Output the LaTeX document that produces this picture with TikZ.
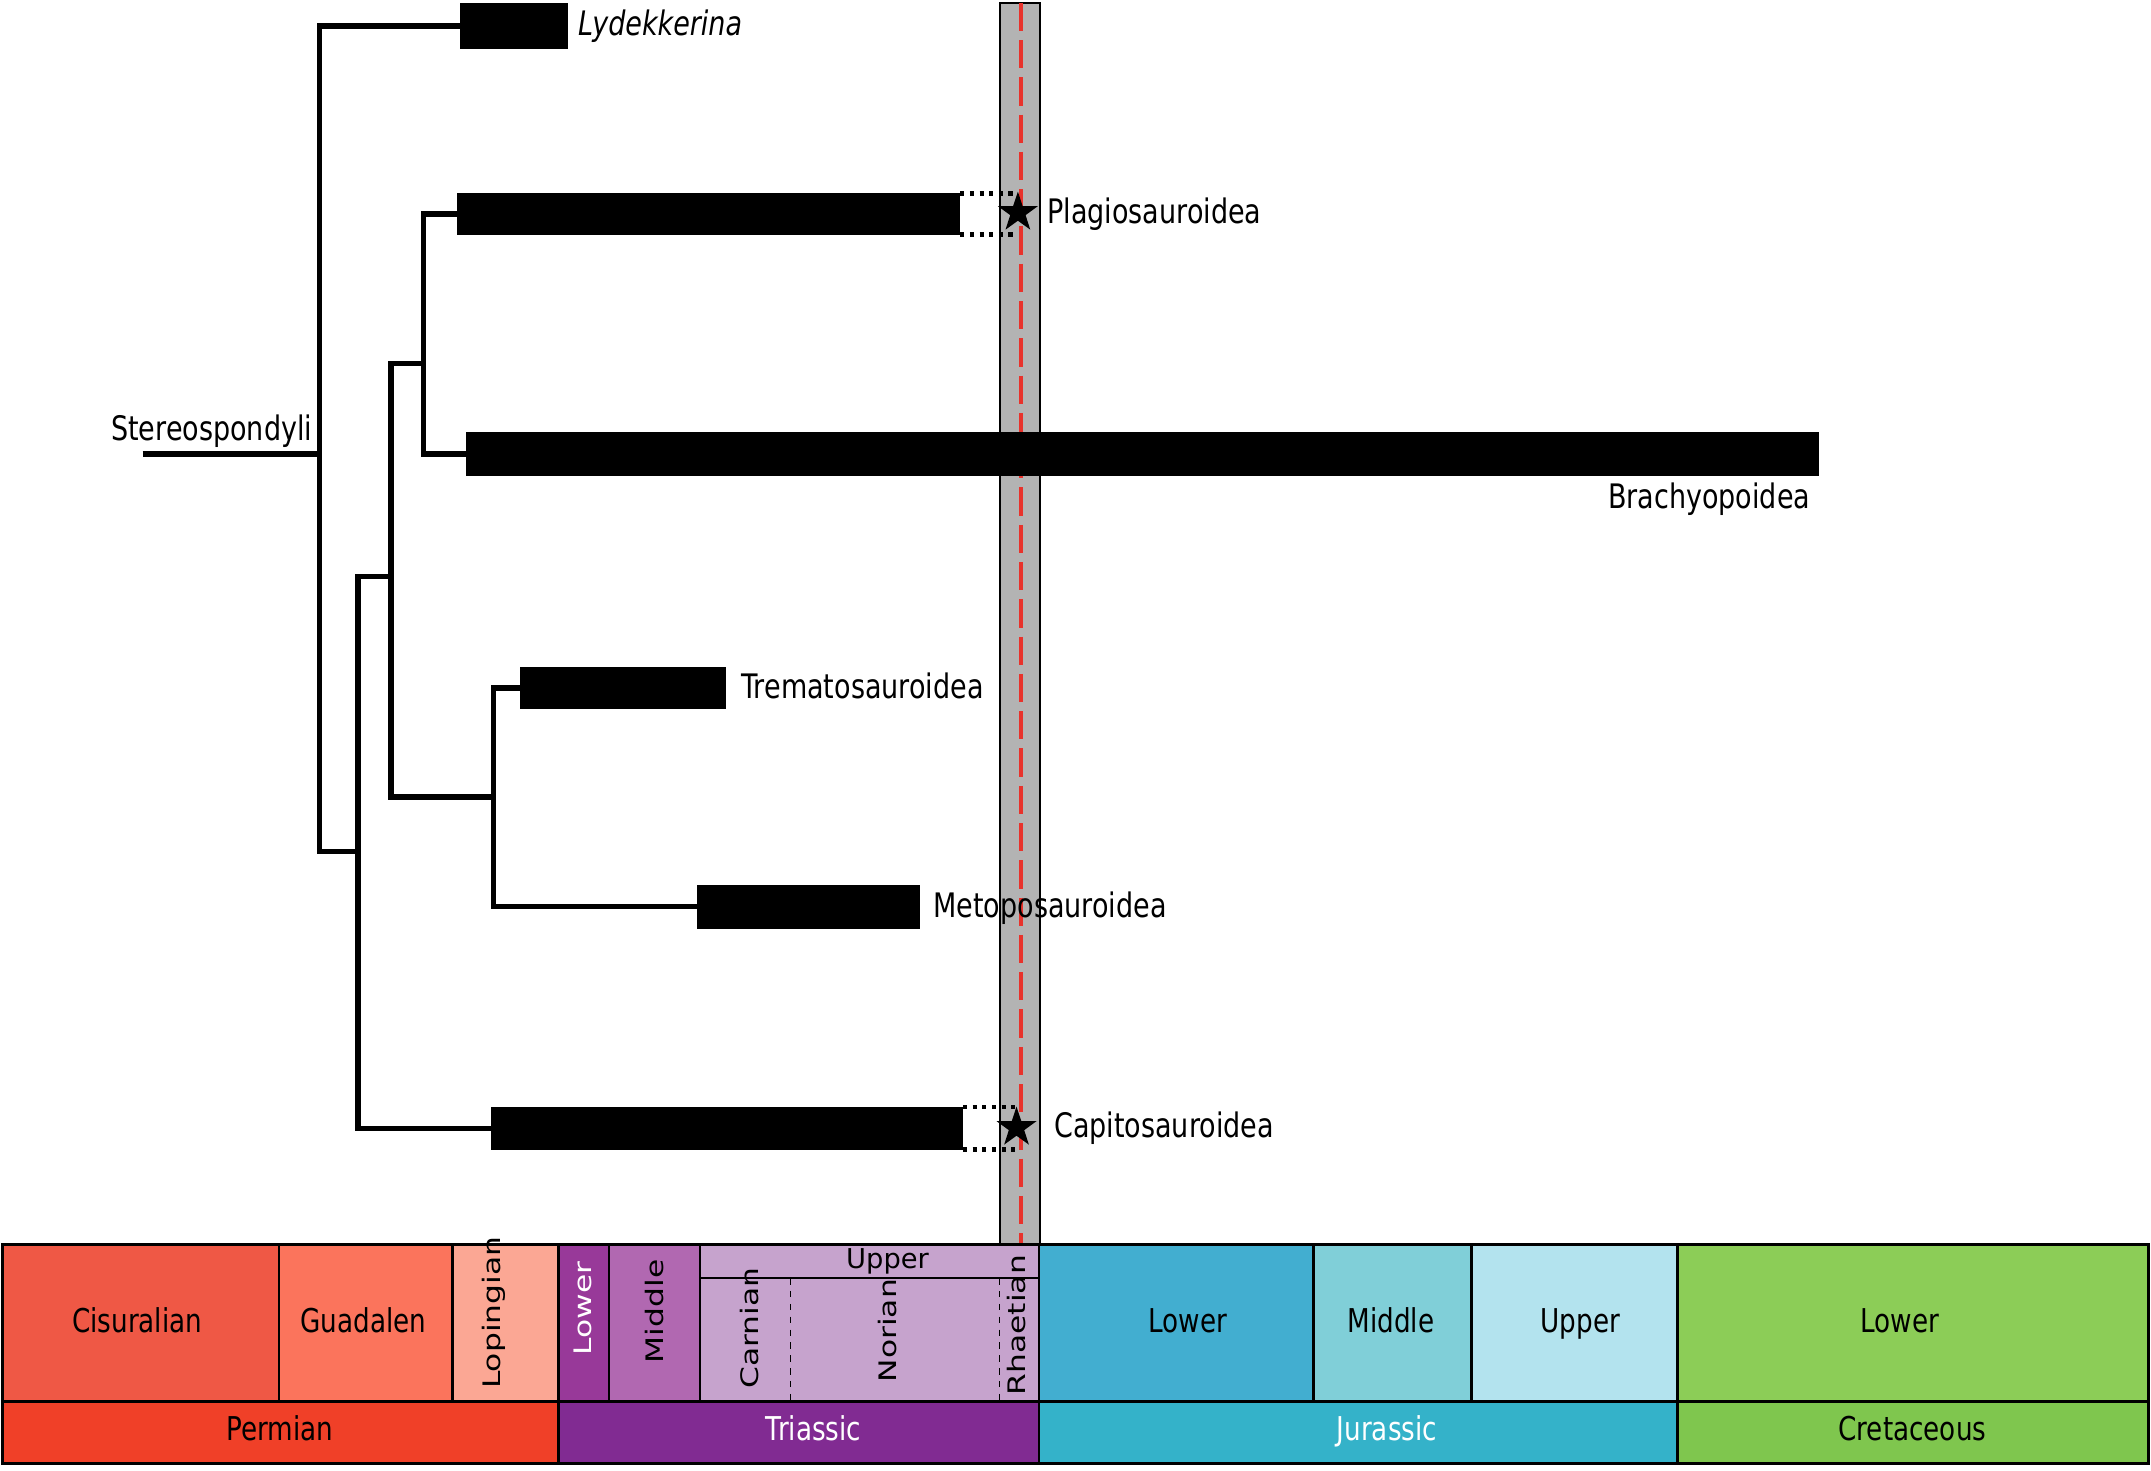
\documentclass[tikz,border=0pt]{standalone}
\usepackage{fontspec}
\setmainfont{DejaVu Sans}[FakeStretch=0.8]
\newfontfamily\stagefont{DejaVu Sans}[FakeStretch=1.3]
\newfontfamily\widefont{DejaVu Sans}
\usepackage{xcolor}
\usepackage{tikz}
\usetikzlibrary{shapes.geometric,fit}

\definecolor{band}{HTML}{B3B3B3}
\definecolor{boundaryred}{HTML}{E8322B}
\definecolor{cisuralian}{HTML}{EF5845}
\definecolor{guadalupian}{HTML}{FB745C}
\definecolor{lopingian}{HTML}{FBA794}
\definecolor{permian}{HTML}{F04028}
\definecolor{lowertri}{HTML}{983999}
\definecolor{middletri}{HTML}{B168B1}
\definecolor{uppertri}{HTML}{C6A3CD}
\definecolor{triassic}{HTML}{812B92}
\definecolor{lowerjur}{HTML}{42AED0}
\definecolor{middlejur}{HTML}{80CFD8}
\definecolor{upperjur}{HTML}{B3E3EE}
\definecolor{jurassic}{HTML}{34B2C9}
\definecolor{lowercret}{HTML}{8CCD57}
\definecolor{cretaceous}{HTML}{7FC64E}

\begin{document}
\begin{tikzpicture}[x=0.015cm, y=-0.015cm,
        branch/.style={line width=1.6pt},
        bar/.style={fill=black, inner sep=0pt, outer sep=0pt},
        gap/.style={line width=1.3pt, dash pattern=on 1.3pt off 1.7pt},
        boundary/.style={boundaryred, line width=1.3pt, dash pattern=on 8.8pt off 2.8pt},
        fossil/.style={star, star points=5, star point ratio=2.6, fill=black, inner sep=0pt, minimum size=0.46cm},
        taxon/.style={anchor=base west, inner sep=0pt, font=\fontsize{10.5}{12}\selectfont},
        cell/.style={draw=black, line width=0.8pt},
        period/.style={anchor=base, inner sep=0pt, font=\fontsize{10.2}{12}\selectfont},
        stage/.style={rotate=90, inner sep=0pt, font=\stagefont\fontsize{7.5}{9}\selectfont}]
    \useasboundingbox (0,0) rectangle (1568,1072);

    % Draw the time slice and the boundary
    \filldraw[fill=band, draw=black, line width=0.6pt] (729,2) rectangle (758,907);
    \draw[boundary] (744,2) coordinate (top) -- (744,907) coordinate (bottom);

    % Draw the ranges
    \node[bar, fit={(335,2) (414,36)}] (lyd) {};
    \node[bar, fit={(333,141) (700,171)}] (plag) {};
    \node[bar, fit={(340,315) (1326,347)}] (brach) {};
    \node[bar, fit={(379,486) (529,517)}] (trem) {};
    \node[bar, fit={(508,645) (671,677)}] (meto) {};
    \node[bar, fit={(358,807) (702,838)}] (capi) {};

    % Draw the tree
    \coordinate (root) at (104,331);
    \coordinate (n1) at (233,331);
    \coordinate (n2) at (261,621);
    \coordinate (n3) at (285,420);
    \coordinate (n4) at (309,265);
    \coordinate (n5) at (360,581);
    \draw[branch] (root) -- (n1);
    \draw[branch] (n1) |- (lyd.west);
    \draw[branch] (n1) |- (n2);
    \draw[branch] (n2) |- (n3);
    \draw[branch] (n2) |- (capi.west);
    \draw[branch] (n3) |- (n4);
    \draw[branch] (n3) |- (n5);
    \draw[branch] (n4) |- (plag.west);
    \draw[branch] (n4) |- (brach.west);
    \draw[branch] (n5) |- (trem.west);
    \draw[branch] (n5) |- (meto.west);

    % Draw the ghost ranges up to the boundary
    \node[fossil] (pstar) at (742,155) {};
    \node[fossil] (cstar) at (741,822) {};
    \draw[gap] (plag.north east) -- (plag.north east -| pstar);
    \draw[gap] (plag.south east) -- (plag.south east -| pstar);
    \draw[gap] (capi.north east) -- (capi.north east -| cstar);
    \draw[gap] (capi.south east) -- (capi.south east -| cstar);

    % Labels
    \node[taxon, anchor=base east] (stereo) at (228,321) {Stereospondyli};
    \node[taxon] (lydname) at (421,26) {\itshape Lydekkerina};
    \node[taxon] (plagname) at (763,163) {Plagiosauroidea};
    \node[taxon, anchor=base east] (brachname) at (1320,371) {Brachyopoidea};
    \node[taxon] (tremname) at (540,509) {Trematosauroidea};
    \node[taxon] (metoname) at (680,669) {Metoposauroidea};
    \node[taxon] (capiname) at (768,829) {Capitosauroidea};

    % Draw the stages
    \foreach \xa/\xb/\xt/\col/\txt [count=\i] in {
        2/203.5/100/cisuralian/Cisuralian,
        203.5/330/265/guadalupian/Guadalen,
        757.5/957.5/866/lowerjur/Lower,
        957.5/1072.5/1014/middlejur/Middle,
        1072.5/1223/1152/upperjur/Upper,
        1223/1566/1385/lowercret/Lower}
    {
        \filldraw[cell, fill=\col] (\xa,907) rectangle (\xb,1021.5);
        \node[period] (stage\i) at (\xt,971) {\txt};
    }
    \foreach \xa/\xb/\xt/\yt/\col/\tcol/\txt [count=\i] in {
        330/407/360/957/lopingian/black/Lopingian,
        407/443.8/425/954/lowertri/white/Lower,
        443.8/510.3/477/956/middletri/black/Middle}
    {
        \filldraw[cell, fill=\col] (\xa,907) rectangle (\xb,1021.5);
        \node[stage, text=\tcol] (rstage\i) at (\xt,\yt) {\txt};
    }

    % Upper Triassic and its ages
    \filldraw[cell, fill=uppertri] (510.3,907) rectangle (757.5,1021.5);
    \draw[cell] (510.3,931.7) -- (757.5,931.7);
    \draw[line width=0.5pt, dash pattern=on 2pt off 2pt] (576.2,931.7) -- (576.2,1021.5);
    \draw[line width=0.5pt, dash pattern=on 2pt off 2pt] (728.6,931.7) -- (728.6,1021.5);
    \node[anchor=base, inner sep=0pt, font=\widefont\fontsize{8.5}{9}\selectfont] (upper) at (647,925) {Upper};
    \node[stage] (carnian) at (546,968) {Carnian};
    \node[stage] (norian) at (647,970) {Norian};
    \node[stage] (rhaetian) at (741,966) {Rhaetian};

    % Draw the periods
    \foreach \xa/\xb/\xt/\col/\tcol/\txt [count=\i] in {
        2/407/204/permian/black/Permian,
        407/757.5/593/triassic/white/Triassic,
        757.5/1223/1011/jurassic/white/Jurassic,
        1223/1566/1394/cretaceous/black/Cretaceous}
    {
        \filldraw[cell, fill=\col] (\xa,1021.5) rectangle (\xb,1067);
        \node[period, text=\tcol] (period\i) at (\xt,1050) {\txt};
    }
\end{tikzpicture}
\end{document}
